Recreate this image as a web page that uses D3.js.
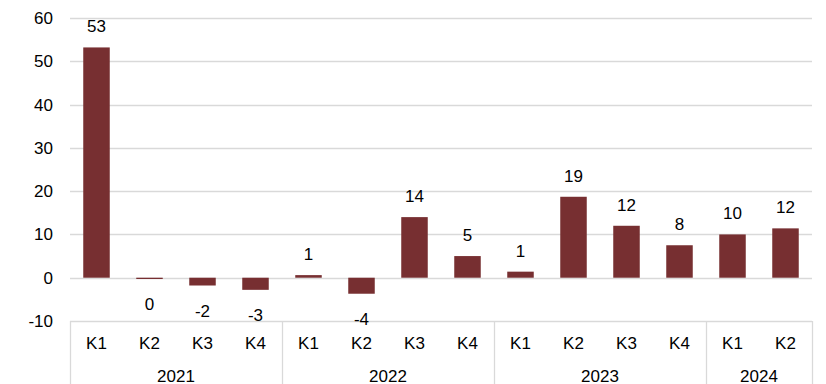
<!DOCTYPE html>
<html>
<head>
<meta charset="utf-8">
<script src="https://cdn.jsdelivr.net/npm/d3@7"></script>
<style>
  body { margin: 0; background: #fff; }
  text { font-family: "Liberation Sans", Arial, sans-serif; fill: #000; }
</style>
</head>
<body>
<svg width="826" height="384"></svg>
<script>
// quarters, years and values
var quarters = ["K1","K2","K3","K4","K1","K2","K3","K4","K1","K2","K3","K4","K1","K2"];
var years = ["2021","2021","2021","2021","2022","2022","2022","2022","2023","2023","2023","2023","2024","2024"];
var values = [53.2, -0.3, -1.8, -2.8, 0.6, -3.7, 14.0, 5.0, 1.4, 18.7, 12.0, 7.5, 10.0, 11.4];
var labels = ["53","0","-2","-3","1","-4","14","5","1","19","12","8","10","12"];
var yTicks = [-10, 0, 10, 20, 30, 40, 50, 60];

var svg = d3.select("svg"),
    m = {left: 70, right: 812, top: 18, bottom: 321};

var x = d3.scaleBand().domain(d3.range(values.length)).range([m.left, m.right]).paddingInner(0.5).paddingOuter(0.25);
var y = d3.scaleLinear().domain([-10, 60]).range([m.bottom, m.top]);

// gridlines
svg.append("g").selectAll("line").data(yTicks).join("line")
    .attr("x1", m.left).attr("x2", m.right)
    .attr("y1", function(d) { return Math.round(y(d)) + 0.5; })
    .attr("y2", function(d) { return Math.round(y(d)) + 0.5; })
    .attr("stroke", "#d9d9d9").attr("stroke-width", 1.3);

// y labels
svg.append("g").selectAll("text").data(yTicks).join("text")
    .attr("x", 53).attr("y", function(d) { return y(d) + 6; })
    .attr("text-anchor", "end").attr("font-size", 17)
    .text(function(d) { return d; });

// bars
svg.append("g").selectAll("rect").data(values).join("rect")
    .attr("x", function(d, i) { return x(i); })
    .attr("width", x.bandwidth())
    .attr("y", function(d) { return y(Math.max(0, d)); })
    .attr("height", function(d) { return Math.abs(y(d) - y(0)); })
    .attr("fill", "#772f31");

// value labels
svg.append("g").selectAll("text").data(values).join("text")
    .attr("x", function(d, i) { return x(i) + x.bandwidth() / 2; })
    .attr("y", function(d) { return d >= 0 ? y(d) - 15 : y(d) + 31; })
    .attr("text-anchor", "middle").attr("font-size", 17)
    .text(function(d, i) { return labels[i]; });

// category axis box
var cats = svg.append("g");
cats.selectAll("text").data(quarters).join("text")
    .attr("x", function(d, i) { return x(i) + x.bandwidth() / 2; })
    .attr("y", 349).attr("text-anchor", "middle").attr("font-size", 17)
    .text(function(d) { return d; });

var groups = [];
years.forEach(function(yr, i) {
  var g = groups.find(function(o) { return o.year === yr; });
  if (!g) groups.push({ year: yr, first: i, last: i }); else g.last = i;
});
var edge = function(i) { return m.left + i * (m.right - m.left) / values.length; };

var seps = [m.left].concat(groups.map(function(g) { return edge(g.last + 1); }));
cats.selectAll("line.sep").data(seps).join("line")
    .attr("class", "sep")
    .attr("x1", function(d) { return Math.round(d) + 0.5; })
    .attr("x2", function(d) { return Math.round(d) + 0.5; })
    .attr("y1", m.bottom).attr("y2", 384)
    .attr("stroke", "#d9d9d9").attr("stroke-width", 1.3);

cats.selectAll("text.yr").data(groups).join("text")
    .attr("class", "yr")
    .attr("x", function(g) { return (edge(g.first) + edge(g.last + 1)) / 2; })
    .attr("y", 382).attr("text-anchor", "middle").attr("font-size", 17)
    .text(function(g) { return g.year; });
</script>
</body>
</html>
